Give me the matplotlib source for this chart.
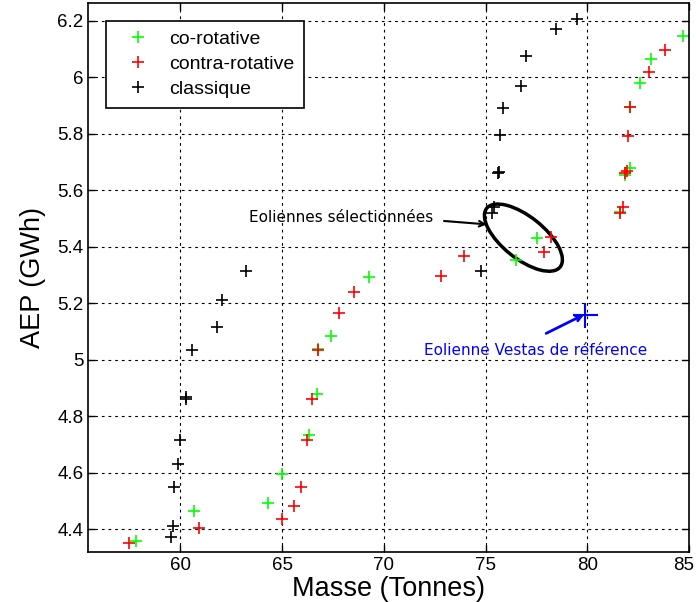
import numpy as np
import matplotlib.pyplot as plt
from matplotlib.patches import Ellipse
from matplotlib.transforms import ScaledTranslation

# Données (masse en tonnes, AEP en GWh)
co_masse = [57.84, 60.67, 64.31, 64.98, 66.30, 66.70, 66.75, 67.41, 69.27,
            76.51, 77.51, 81.61, 81.85, 82.11, 82.08, 82.57, 83.13, 84.72]
co_aep = [4.357, 4.465, 4.491, 4.594, 4.733, 4.877, 5.036, 5.082, 5.291,
          5.353, 5.431, 5.522, 5.654, 5.677, 5.895, 5.978, 6.063, 6.147]

contra_masse = [57.48, 60.90, 64.98, 65.57, 65.92, 66.22, 66.47, 66.75, 67.78,
                68.54, 72.80, 73.93, 77.89, 78.23, 81.61, 81.77, 81.85, 81.97,
                82.02, 82.11, 83.03, 83.82]
contra_aep = [4.349, 4.405, 4.434, 4.481, 4.550, 4.715, 4.860, 5.033, 5.166,
              5.240, 5.296, 5.366, 5.380, 5.435, 5.518, 5.541, 5.660, 5.669,
              5.793, 5.893, 6.019, 6.096]

classique_masse = [59.52, 59.64, 59.70, 59.87, 60.00, 60.27, 60.30, 60.55, 61.80,
                   62.04, 63.23, 74.76, 75.31, 75.39, 75.60, 75.68, 75.71, 75.84,
                   76.74, 76.99, 78.46, 79.49]
classique_aep = [4.371, 4.411, 4.550, 4.629, 4.715, 4.860, 4.866, 5.034, 5.116,
                 5.210, 5.314, 5.315, 5.518, 5.539, 5.660, 5.665, 5.795, 5.892,
                 5.969, 6.076, 6.171, 6.206]

vestas_masse = [79.87]
vestas_aep = [5.158]

x_ticks = [60, 65, 70, 75, 80, 85]
y_ticks = [4.4, 4.6, 4.8, 5.0, 5.2, 5.4, 5.6, 5.8, 6.0, 6.2]
y_labels = ['4.4', '4.6', '4.8', '5', '5.2', '5.4', '5.6', '5.8', '6', '6.2']

plt.rcParams['font.family'] = ['Liberation Sans', 'DejaVu Sans']

fig = plt.figure(figsize=(6.96, 6.02), dpi=100)
ax = fig.add_axes([0.127, 0.0836, 0.863, 0.911])

ax.plot(co_masse, co_aep, '+', color=(0, 1, 0), ms=8, mew=1.2, label='co-rotative')
ax.plot(contra_masse, contra_aep, '+', color=(1, 0, 0), ms=8, mew=1.2, label='contra-rotative')
ax.plot(classique_masse, classique_aep, '+', color='k', ms=8, mew=1.2, label='classique')
ax.plot(vestas_masse, vestas_aep, '+', color=(0, 0, 1), ms=18, mew=1.5)

ax.set_xlim(55.48, 85)
ax.set_ylim(4.32, 6.262)
ax.set_xticks(x_ticks)
ax.set_xticklabels([str(t) for t in x_ticks])
ax.set_yticks(y_ticks)
ax.set_yticklabels(y_labels)
ax.tick_params(direction='in', top=True, right=True, length=5, width=1, labelsize=13.5)
ax.grid(True, color='k', linestyle=(0, (2.5, 3.5)), linewidth=0.8)
for s in ax.spines.values():
    s.set_linewidth(1.2)

# le dernier label (85) touche le bord droit : on le décale un peu
last = ax.get_xticklabels()[-1]
last.set_transform(last.get_transform() + ScaledTranslation(-5 / 100, 0, fig.dpi_scale_trans))

ax.set_xlabel('Masse (Tonnes)', fontsize=19.5, labelpad=2)
ax.set_ylabel('AEP (GWh)', fontsize=19.5, labelpad=8)

leg = ax.legend(loc='upper left', bbox_to_anchor=(0.0295, 0.968), borderaxespad=0,
                fontsize=14, frameon=True, fancybox=False, framealpha=1,
                edgecolor='k', labelspacing=0.38, handlelength=2.3, handletextpad=0.45,
                borderpad=0.5)
leg.get_frame().set_linewidth(1.2)

# Ellipse autour des éoliennes sélectionnées (taille en pouces)
trans = fig.dpi_scale_trans + ScaledTranslation(76.86, 5.432, ax.transData)
ax.add_patch(Ellipse((0, 0), 0.94, 0.42, angle=-38.6, fill=False,
                     edgecolor='k', linewidth=2.5, transform=trans))

ax.text(67.92, 5.504, 'Eoliennes sélectionnées', ha='center', va='center',
        fontsize=11, family='DejaVu Sans')
ax.annotate('', xy=(75.06, 5.479), xytext=(72.96, 5.491),
            arrowprops=dict(arrowstyle='->', color='k', lw=1.5, shrinkA=0, shrinkB=0))

ax.text(77.48, 5.034, 'Eolienne Vestas de référence', ha='center', va='center',
        fontsize=11, family='DejaVu Sans', color=(0, 0, 1))
ax.annotate('', xy=(79.85, 5.160), xytext=(77.98, 5.093),
            arrowprops=dict(arrowstyle='->', color=(0, 0, 1), lw=2, shrinkA=0, shrinkB=0))

fig.savefig('out.png', dpi=100)
